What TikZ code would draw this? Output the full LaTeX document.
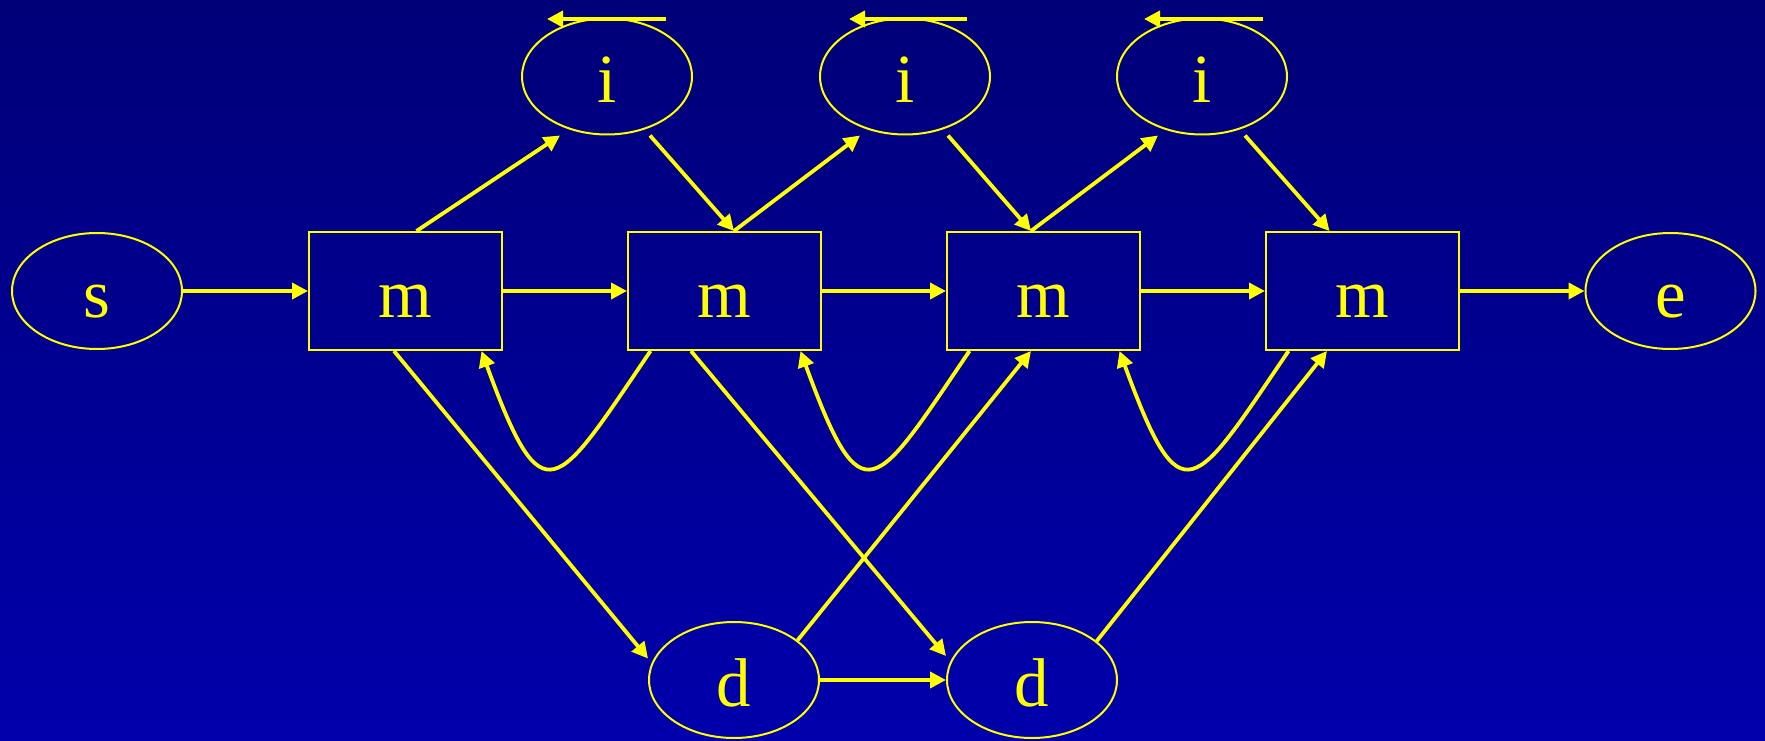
\documentclass[tikz,border=0pt]{standalone}
\usepackage{fontspec}
\setmainfont{Liberation Serif}
\usetikzlibrary{arrows.meta,shapes.geometric,calc}
\definecolor{yel}{RGB}{255,255,0}
\definecolor{bgtop}{RGB}{0,0,120}
\definecolor{bgbot}{RGB}{0,0,172}
\begin{document}
\begin{tikzpicture}[x=1pt,y=-1pt,
  lab/.style={inner sep=0pt,text height=53pt,text depth=0pt,font=\fontsize{69}{69}\selectfont,text=yel},
  ell/.style={ellipse,draw=yel,line width=2pt,minimum width=170pt,minimum height=116pt,lab},
  mbox/.style={rectangle,draw=yel,line width=2pt,minimum width=193pt,minimum height=118pt,lab},
  conn/.style={draw=yel,line width=3.8pt,-{Triangle[length=16pt,width=16pt]}}]
\shade[top color=bgtop,bottom color=bgbot] (0,0) rectangle (1765,741);
\useasboundingbox (0,0) rectangle (1765,741);

\node[ell] (s) at (97,291) {s};
\node[mbox] (m1) at (405.5,291) {m};
\node[mbox] (m2) at (724.5,291) {m};
\node[mbox] (m3) at (1043.5,291) {m};
\node[mbox] (m4) at (1362.5,291) {m};
\node[ell] (e) at (1670.5,291) {e};
\node[ell] (i1) at (607,76.5) {i};
\node[ell] (i2) at (905,76.5) {i};
\node[ell] (i3) at (1202,76.5) {i};
\node[ell] (d1) at (734,680) {d};
\node[ell] (d2) at (1032,680) {d};

% horizontal chain
\draw[conn] (s.east) -- (m1.west);
\draw[conn] (m1.east) -- (m2.west);
\draw[conn] (m2.east) -- (m3.west);
\draw[conn] (m3.east) -- (m4.west);
\draw[conn] (m4.east) -- (e.west);
\draw[conn] (d1.east) -- (d2.west);

% insert states
\draw[conn] ([xshift=11pt]m1.north) -- ([xshift=-47pt]i1.south);
\draw[conn] ([xshift=43pt]i1.south) -- ([xshift=9.5pt]m2.north);
\draw[conn] ([xshift=9.5pt]m2.north) -- ([xshift=-45pt]i2.south);
\draw[conn] ([xshift=43pt]i2.south) -- ([xshift=-12.5pt]m3.north);
\draw[conn] ([xshift=-12.5pt]m3.north) -- ([xshift=-44pt]i3.south);
\draw[conn] ([xshift=43pt]i3.south) -- ([xshift=-33pt]m4.north);

% self loops on insert states
\draw[conn] ([xshift=59pt,yshift=-1.5pt]i1.north) -- ([xshift=-60pt,yshift=-1.5pt]i1.north);
\draw[conn] ([xshift=62pt,yshift=-1.5pt]i2.north) -- ([xshift=-56pt,yshift=-1.5pt]i2.north);
\draw[conn] ([xshift=61pt,yshift=-1.5pt]i3.north) -- ([xshift=-58pt,yshift=-1.5pt]i3.north);

% backward loops
\draw[conn] ([xshift=-74pt]m2.south) .. controls +(-95,140) and +(62,170) .. ([xshift=76pt]m1.south);
\draw[conn] ([xshift=-74pt]m3.south) .. controls +(-95,140) and +(62,170) .. ([xshift=76pt]m2.south);
\draw[conn] ([xshift=-74pt]m4.south) .. controls +(-95,140) and +(62,170) .. ([xshift=76pt]m3.south);

% delete states
\draw[conn] ([xshift=-11.5pt]m1.south) -- ([yshift=21.5pt]d1.west);
\draw[conn] ([xshift=-33.5pt]m2.south) -- ([yshift=24pt]d2.west);
\draw[conn] (d1.32) -- ([xshift=-12.5pt]m3.south);
\draw[conn] (d2.31) -- ([xshift=-35.5pt]m4.south);
\end{tikzpicture}
\end{document}
